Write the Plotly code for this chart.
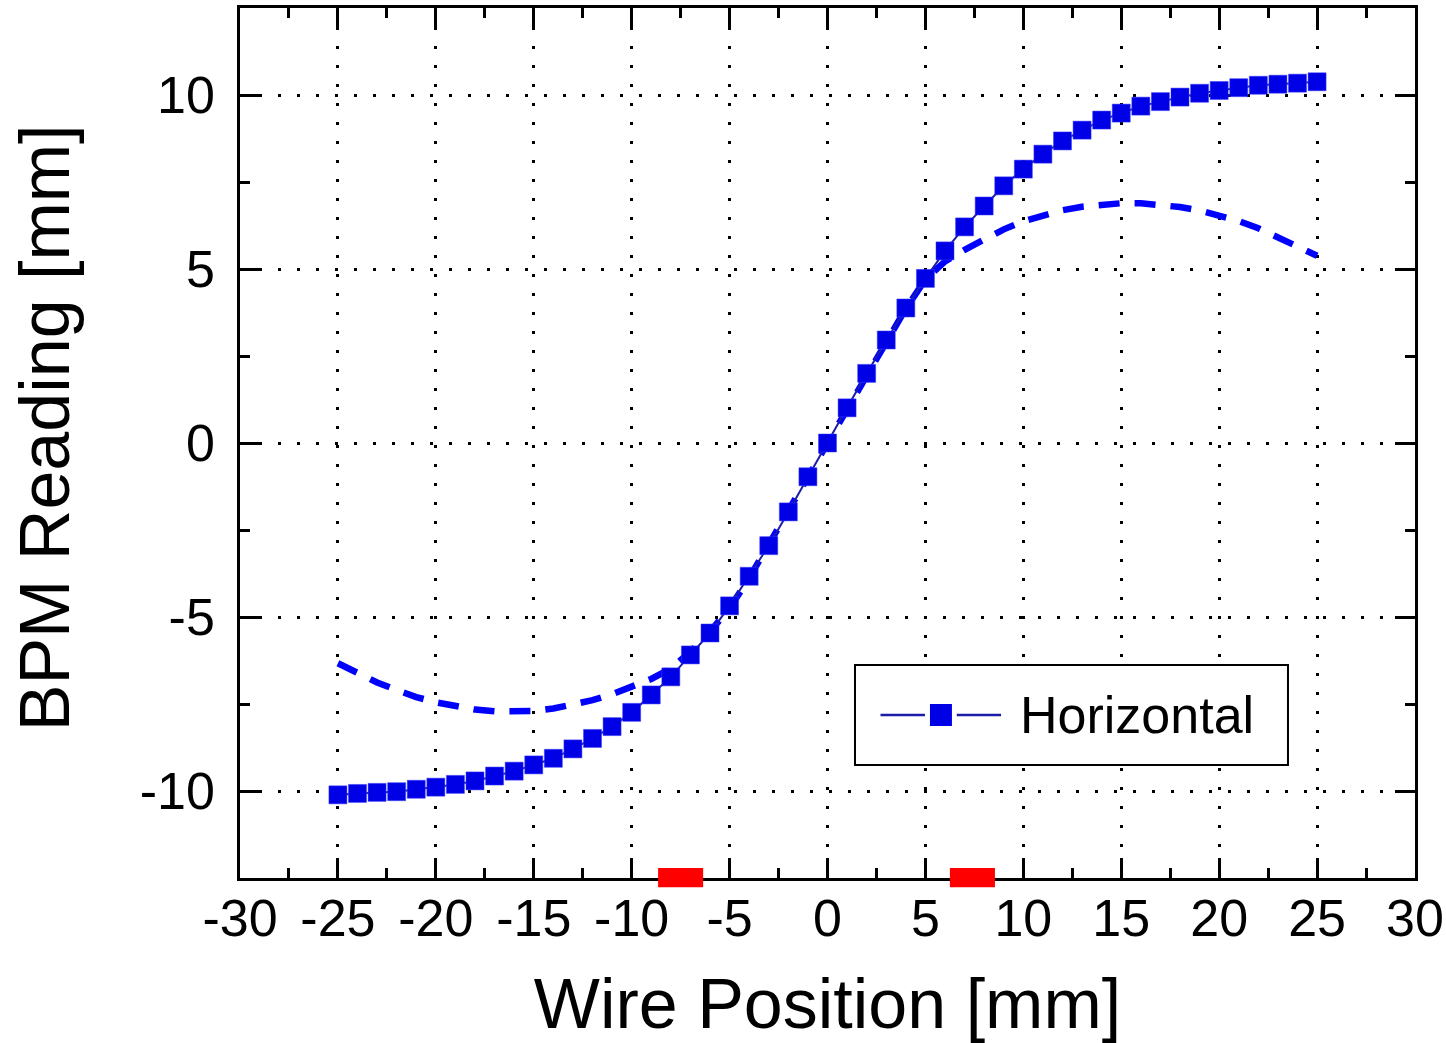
import plotly.graph_objects as go

# ---------------- data ----------------
wire_pos = [-25, -24, -23, -22, -21, -20, -19, -18, -17, -16, -15, -14, -13,
            -12, -11, -10, -9, -8, -7, -6, -5, -4, -3, -2, -1, 0,
            1, 2, 3, 4, 5, 6, 7, 8, 9, 10, 11, 12, 13, 14, 15, 16, 17,
            18, 19, 20, 21, 22, 23, 24, 25]

bpm_horizontal = [-10.11, -10.07, -10.04, -10.02, -9.95, -9.89, -9.81, -9.71,
                  -9.57, -9.43, -9.25, -9.06, -8.79, -8.49, -8.15, -7.74,
                  -7.24, -6.72, -6.09, -5.46, -4.68, -3.83, -2.95, -1.98,
                  -0.97, 0.0, 1.01, 2.00, 2.96, 3.88, 4.73, 5.52, 6.21, 6.81,
                  7.39, 7.87, 8.30, 8.68, 8.99, 9.28, 9.48, 9.68, 9.81, 9.94,
                  10.05, 10.13, 10.21, 10.28, 10.31, 10.34, 10.38]

fit_curve = [-6.33, -6.62, -6.88, -7.10, -7.30, -7.45, -7.57, -7.66, -7.71,
             -7.72, -7.70, -7.63, -7.53, -7.39, -7.22, -7.02, -6.78, -6.48,
             -6.00, -5.42, -4.75, -3.88, -2.94, -1.97, -0.98, 0.0, 0.98,
             1.97, 2.93, 3.86, 4.70, 5.22, 5.55, 5.86, 6.14, 6.37, 6.55,
             6.69, 6.79, 6.86, 6.89, 6.89, 6.85, 6.78, 6.68, 6.55, 6.38,
             6.17, 5.92, 5.62, 5.38]

electrode_centers = [-7.5, 7.4]

x_tick_vals = [-30, -25, -20, -15, -10, -5, 0, 5, 10, 15, 20, 25, 30]
x_tick_text = ["-30", "-25", "-20", "-15", "-10", "-5", "0", "5", "10", "15", "20", "25", "30"]
x_minor_vals = [-27.5, -22.5, -17.5, -12.5, -7.5, -2.5, 2.5, 7.5, 12.5, 17.5, 22.5, 27.5]
y_tick_vals = [-10, -5, 0, 5, 10]
y_tick_text = ["-10", "-5", "0", "5", "10"]
y_minor_vals = [-12.5, -7.5, -2.5, 2.5, 7.5, 12.5]

series_name = "Horizontal"
x_title = "Wire Position [mm]"
y_title = "BPM Reading [mm]"

# ---------------- styling ----------------
FONT = "Liberation Sans, Arial, Helvetica, sans-serif"
DATA_BLUE = "#0000e6"
LINE_NAVY = "#1c1ca8"
FIT_BLUE = "#0000ff"
ELECTRODE_HALF_WIDTH = 1.15

fig = go.Figure()

fig.add_trace(go.Scatter(
    x=wire_pos, y=fit_curve, mode="lines", name="fit",
    line=dict(color=FIT_BLUE, width=6.5, dash="21px,15px"),
    showlegend=False, hoverinfo="skip",
))

fig.add_trace(go.Scatter(
    x=wire_pos, y=bpm_horizontal, mode="lines+markers", name=series_name,
    line=dict(color=LINE_NAVY, width=2),
    marker=dict(symbol="square", size=18, color=DATA_BLUE,
                line=dict(color="#3a3aff", width=0.5)),
    showlegend=False,
))

axis_common = dict(
    showline=True, linecolor="black", linewidth=2.5, mirror="allticks",
    ticks="inside", ticklen=20, tickwidth=2.5, tickcolor="black",
    showgrid=True, gridcolor="black", gridwidth=2.5, griddash="3px,16px",
    zeroline=False, automargin=False,
    tickfont=dict(family=FONT, size=52, color="black"),
    tickmode="array",
)

minor_common = dict(ticks="inside", ticklen=10, tickwidth=2.5,
                    tickcolor="black", showgrid=False, tickmode="array")

fig.update_xaxes(
    **axis_common,
    range=[-30, 30], tickvals=x_tick_vals, ticktext=x_tick_text,
    minor=dict(**minor_common, tickvals=x_minor_vals),
    ticklabelstandoff=-7,
    title=dict(text=x_title, font=dict(family=FONT, size=70, color="black"),
               standoff=33),
)
fig.update_yaxes(
    **axis_common,
    range=[-12.5, 12.5], tickvals=y_tick_vals, ticktext=y_tick_text,
    minor=dict(**minor_common, tickvals=y_minor_vals),
    ticklabelstandoff=12,
)

shapes = []
# electrode markers on the x axis
for c in electrode_centers:
    shapes.append(dict(type="rect", xref="x", yref="paper",
                       x0=c - ELECTRODE_HALF_WIDTH, x1=c + ELECTRODE_HALF_WIDTH,
                       y0=-0.0105, y1=0.0115,
                       fillcolor="#ff0000", line=dict(width=0), layer="above"))

# manual legend box (to reproduce the long line symbol)
shapes.append(dict(type="rect", xref="paper", yref="paper",
                   x0=0.5234, x1=0.8919, y0=0.1299, y1=0.2448,
                   fillcolor="white", line=dict(color="black", width=2),
                   layer="above"))
shapes.append(dict(type="line", xref="paper", yref="paper",
                   x0=0.5451, x1=0.5830, y0=0.1874, y1=0.1874,
                   line=dict(color=LINE_NAVY, width=2.5), layer="above"))
shapes.append(dict(type="line", xref="paper", yref="paper",
                   x0=0.6100, x1=0.6477, y0=0.1874, y1=0.1874,
                   line=dict(color=LINE_NAVY, width=2.5), layer="above"))
shapes.append(dict(type="rect", xref="paper", yref="paper",
                   x0=0.5872, x1=0.6059, y0=0.1747, y1=0.2000,
                   fillcolor=DATA_BLUE, line=dict(width=0), layer="above"))

fig.update_layout(
    width=1446, height=1043,
    margin=dict(l=240, r=31, t=8, b=165, autoexpand=False),
    paper_bgcolor="white", plot_bgcolor="white",
    showlegend=False,
    shapes=shapes,
    annotations=[
        dict(text=series_name, xref="paper", yref="paper",
             x=0.6621, y=0.1874, xanchor="left", yanchor="middle",
             showarrow=False,
             font=dict(family=FONT, size=52, color="black")),
        dict(text=y_title, xref="paper", yref="paper",
             x=-0.166, y=0.518, xanchor="center", yanchor="middle",
             textangle=-90, showarrow=False,
             font=dict(family=FONT, size=70, color="black")),
    ],
)

fig.write_html("out.html")
